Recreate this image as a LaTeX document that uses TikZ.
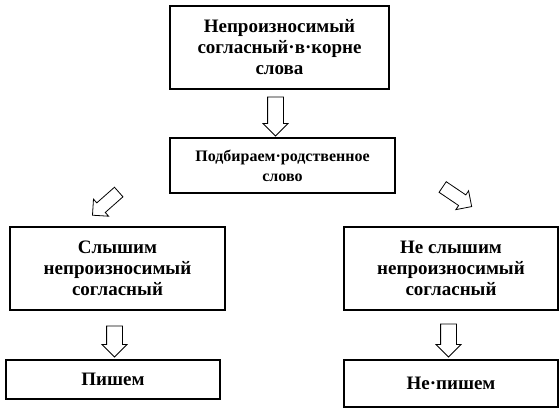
\documentclass[tikz,border=0pt]{standalone}
\usepackage{fontspec}
\setmainfont{Liberation Serif}
\usetikzlibrary{shapes.arrows}

\begin{document}
\begin{tikzpicture}[x=1pt, y=-1pt]
        \tikzstyle{box} = [draw, rectangle, line width=1.2pt, align=center, inner sep=1pt, font=\bfseries\fontsize{19}{21}\selectfont]
        \tikzstyle{harrow} = [draw, single arrow, line width=0.8pt, inner xsep=0pt, inner ysep=7.5pt, single arrow head extend=4.5pt, single arrow head indent=0pt]
        \useasboundingbox (0,0) rectangle (560,408);
        \node[box, minimum width=219pt, minimum height=83pt] (root) at (279.5, 47.5) {Непроизносимый\\согласный·в·корне\\слова};
        \node[box, minimum width=225pt, minimum height=55pt, font=\bfseries\fontsize{16}{20}\selectfont] (pick) at (282.5, 165.5) {Подбираем·родственное\\слово};
        \node[box, minimum width=215pt, minimum height=83pt] (hear) at (117.5, 268.5) {Слышим\\непроизносимый\\согласный};
        \node[box, minimum width=214pt, minimum height=83pt] (nohear) at (451, 268.5) {Не слышим\\непроизносимый\\согласный};
        \node[box, minimum width=214pt, minimum height=39pt] (write) at (113, 379.5) {Пишем};
        \node[box, minimum width=214pt, minimum height=47pt] (nowrite) at (451, 383.5) {Не·пишем};
        \node[harrow, minimum height=39pt, rotate=-90] (a1) at (275.5, 112.5) {};
        \node[harrow, minimum height=35pt, inner ysep=6pt, single arrow head extend=5pt, rotate=221.5] (a2) at (108, 201.5) {};
        \node[harrow, minimum height=35pt, inner ysep=6pt, single arrow head extend=5pt, rotate=-34] (a3) at (454.5, 195) {};
        \node[harrow, minimum height=31pt, rotate=-90] (a4) at (114.5, 337.5) {};
        \node[harrow, minimum height=33pt, rotate=-90] (a5) at (448.5, 336.5) {};
      \end{tikzpicture}
\end{document}
